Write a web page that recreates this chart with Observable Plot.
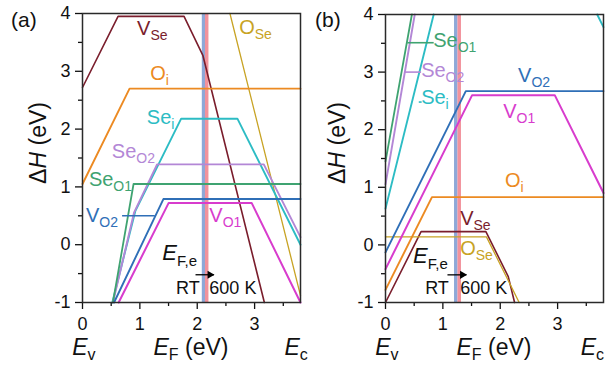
<!DOCTYPE html>
<html><head><meta charset="utf-8">
<script src="https://cdn.jsdelivr.net/npm/d3@7"></script>
<script src="https://cdn.jsdelivr.net/npm/@observablehq/plot@0.6"></script>
<style>
body{margin:0;background:#fff;}
#wrap{display:flex;width:608px;height:367px;overflow:visible;}
#wrap svg{overflow:visible;}
</style></head><body><div id="wrap"></div>
<script>
// ---------- data ----------
const EF_DOMAIN = [0, 3.8];
const DH_DOMAIN = [-1, 4];
const xTicks = [0, 1, 2, 3];
const xMinor = [0.5, 1.5, 2.5, 3.5];
const yTicks = [-1, 0, 1, 2, 3, 4];
const yMinor = [-0.5, 0.5, 1.5, 2.5, 3.5];

const defects = ["V_Se", "O_Se", "O_i", "Se_i", "Se_O2", "Se_O1", "V_O2", "V_O1"];

// panel (a): line segments, vertices [E_F (eV), ΔH (eV)]
const a_V_Se  = [[[0, 2.72], [0.62, 3.95], [1.77, 3.95], [2.10, 3.27], [3.17, -1]]];
const a_O_Se  = [[[2.57, 4], [3.8, -0.88]]];
const a_O_i   = [[[0, 1.05], [0.82, 2.70], [3.8, 2.70]]];
const a_Se_i  = [[[0.52, -1], [0.92, 0.58], [1.72, 2.18], [2.70, 2.18], [3.8, 0.0]]];
const a_Se_O2 = [[[0.53, -1], [0.90, 0.56], [1.30, 1.39], [3.16, 1.39], [3.8, 0.13]]];
const a_Se_O1 = [[[0.53, -1], [0.89, 1.05], [3.8, 1.05]]];
const a_V_O2  = [[[0.55, -1], [1.41, 0.79], [3.8, 0.79]]];
const a_V_O1  = [[[0.63, -1], [1.50, 0.72], [2.95, 0.72], [3.8, -1]]];

// panel (b)
const b_V_Se  = [[[0, -1], [0.62, 0.23], [1.75, 0.23], [2.14, -0.55], [2.25, -1]]];
const b_O_Se  = [[[0, 0.14], [1.76, 0.14], [2.33, -1]]];
const b_O_i   = [[[0, -0.78], [0.81, 0.83], [3.8, 0.83]]];
const b_Se_i  = [[[0, 0.63], [0.84, 4]], [[3.69, 4], [3.8, 3.78]]];
const b_Se_O2 = [[[0, 1.05], [0.51, 4]]];
const b_Se_O1 = [[[0, 1.45], [0.46, 4]]];
const b_V_O2  = [[[0, -0.13], [1.40, 2.67], [3.8, 2.67]]];
const b_V_O1  = [[[0, -0.42], [1.51, 2.60], [2.95, 2.60], [3.8, 0.90]]];

// curve labels (anchor in data units)
const a_labelDefect = ["V_Se", "O_Se", "O_i", "Se_i", "Se_O2", "Se_O1", "V_O2", "V_O1"];
const a_labelX = [0.96, 2.74, 1.19, 1.13, 0.52, 0.12, 0.07, 2.22];
const a_labelY = [3.62, 3.64, 2.84, 2.08, 1.49, 1.0, 0.38, 0.38];
const b_labelDefect = ["Se_O1", "Se_O2", "Se_i", "V_O2", "V_O1", "O_i", "V_Se", "O_Se"];
const b_labelX = [0.84, 0.63, 0.63, 2.32, 2.06, 2.09, 1.31, 1.31];
const b_labelY = [3.43, 2.91, 2.44, 2.82, 2.20, 1.0, 0.34, -0.18];

// leader lines [defect, x1, x2, y]
const a_leaders = [["V_O2", 0.69, 1.26, 0.5]];
const b_leaders = [["Se_O1", 0.38, 0.84, 3.51], ["Se_O2", 0.34, 0.62, 3.0], ["Se_i", 0.58, 0.63, 2.48]];

// equilibrium Fermi level at RT and 600 K
const a_EFe = [2.11, 2.165];
const b_EFe = [1.225, 1.285];
const a_arrow = [1.97, 2.29, -0.52];
const b_arrow = [1.08, 1.41, -0.52];
const a_noteX = [1.40, 1.64, 2.22];
const a_noteY = [-0.27, -0.86, -0.86];
const b_noteX = [0.49, 0.70, 1.31];
const b_noteY = [-0.32, -0.86, -0.86];

// ---------- styles ----------
const colors = {V_Se: "#7a1d2c", O_Se: "#c8a324", O_i: "#ec8a22", Se_i: "#2cbcc4",
  Se_O2: "#b387d6", Se_O1: "#3fa371", V_O2: "#2f6fb7", V_O1: "#d83ccd"};
const widths = {V_Se: 1.6, O_Se: 1.3, O_i: 1.9, Se_i: 1.9, Se_O2: 1.9, Se_O1: 1.8, V_O2: 1.9, V_O1: 2};
const bandColors = ["#8ea8d8", "#f2929c"];
const FONT = "'Liberation Sans', Arial, sans-serif";

const panels = [
  {tag: "(a)", ml: 82, mr: 4, mt: 13,
   curves: {V_Se: a_V_Se, O_Se: a_O_Se, O_i: a_O_i, Se_i: a_Se_i, Se_O2: a_Se_O2, Se_O1: a_Se_O1, V_O2: a_V_O2, V_O1: a_V_O1},
   lab: [a_labelDefect, a_labelX, a_labelY], leaders: a_leaders, efe: a_EFe, arrow: a_arrow,
   note: [a_noteX, a_noteY], ytitleX: 46, ytitleY: 143, ecX: 3.53},
  {tag: "(b)", ml: 81, mr: 5, mt: 14,
   curves: {V_Se: b_V_Se, O_Se: b_O_Se, O_i: b_O_i, Se_i: b_Se_i, Se_O2: b_Se_O2, Se_O1: b_Se_O1, V_O2: b_V_O2, V_O1: b_V_O1},
   lab: [b_labelDefect, b_labelX, b_labelY], leaders: b_leaders, efe: b_EFe, arrow: b_arrow,
   note: [b_noteX, b_noteY], ytitleX: 41, ytitleY: 143, ecX: 3.41}
];

function rows(segs) {
  const out = [];
  segs.forEach((s, i) => s.forEach(([x, y]) => out.push({x, y, seg: i})));
  return out;
}

function rich(g, x, y, parts, o) {
  const t = g.append("text").attr("x", x).attr("y", y)
    .attr("fill", o.color || "#111").attr("font-size", o.size)
    .attr("text-anchor", o.anchor || "start").attr("font-family", FONT);
  if (o.rotate) t.attr("transform", `rotate(-90 ${x} ${y})`);
  let shift = 0;
  for (const p of parts) {
    const ts = t.append("tspan").text(p.t);
    if (p.it) ts.attr("font-style", "italic");
    if (p.sub) {
      ts.attr("font-size", o.subSize);
      if (!shift) { ts.attr("dy", o.subDy); shift = o.subDy; }
    } else if (shift) { ts.attr("dy", -shift); shift = 0; }
  }
  return t;
}

const wrap = document.getElementById("wrap");
for (const p of panels) {
  const lineMarks = defects.filter(d => p.curves[d]).map(d =>
    Plot.line(rows(p.curves[d]), {x: "x", y: "y", z: "seg", stroke: colors[d], strokeWidth: widths[d]}));
  const leaderMarks = p.leaders.map(([d, x1, x2, y]) =>
    Plot.link([{x1, x2, y}], {x1: "x1", x2: "x2", y1: "y", y2: "y", stroke: colors[d], strokeWidth: 1.6}));
  const [ax1, ax2, ay] = p.arrow;
  const plot = Plot.plot({
    width: 304, height: 367,
    marginLeft: p.ml, marginRight: p.mr, marginTop: p.mt, marginBottom: 65,
    x: {domain: EF_DOMAIN},
    y: {domain: DH_DOMAIN},
    style: {fontFamily: FONT, fontSize: "18px", color: "#111", background: "transparent", overflow: "visible"},
    marks: [
      Plot.ruleX([p.efe[0]], {stroke: bandColors[0], strokeWidth: 3.5}),
      Plot.ruleX([p.efe[1]], {stroke: bandColors[1], strokeWidth: 3.5}),
      ...lineMarks,
      ...leaderMarks,
      Plot.link([{ax1, ax2, ay}], {x1: "ax1", x2: "ax2", y1: "ay", y2: "ay", stroke: "#000", strokeWidth: 1.3}),
      Plot.dot([{ax2, ay}], {x: "ax2", y: "ay", symbol: "triangle", rotate: 90, r: 3, fill: "#000", stroke: "none", dx: -4}),
      Plot.axisX({ticks: xTicks, tickSize: 7, tickPadding: 8, fontSize: 18, label: null, tickFormat: d => String(d), strokeWidth: 1.3}),
      Plot.axisX({ticks: xMinor, tickSize: 4, label: null, tickFormat: () => "", strokeWidth: 1.3}),
      Plot.axisY({ticks: yTicks, tickSize: 7, tickPadding: 5, fontSize: 18, label: null, tickFormat: d => String(d), strokeWidth: 1.3}),
      Plot.axisY({ticks: yMinor, tickSize: 4, label: null, tickFormat: () => "", strokeWidth: 1.3}),
      Plot.frame({stroke: "#2a2a2a", strokeWidth: 1.5})
    ]
  });
  const sx = plot.scale("x"), sy = plot.scale("y");
  const g = d3.select(plot).append("g");
  // curve labels
  const [names, lx, ly] = p.lab;
  names.forEach((d, i) => {
    const [main, sub] = d.split("_");
    rich(g, sx.apply(lx[i]), sy.apply(ly[i]), [{t: main}, {t: sub, sub: true}],
      {color: colors[d], size: 20, subSize: 14, subDy: 5});
  });
  // E_F,e / RT / 600 K
  const [nx, ny] = p.note;
  rich(g, sx.apply(nx[0]), sy.apply(ny[0]), [{t: "E", it: true}, {t: "F,e", sub: true}],
    {size: 22, subSize: 15, subDy: 6});
  rich(g, sx.apply(nx[1]), sy.apply(ny[1]), [{t: "RT"}], {size: 18});
  rich(g, sx.apply(nx[2]), sy.apply(ny[2]), [{t: "600 K"}], {size: 18});
  // panel tag
  rich(g, 11, 27, [{t: p.tag}], {size: 21});
  // axis titles
  rich(g, p.ytitleX, p.ytitleY, [{t: "Δ"}, {t: "H", it: true}, {t: " (eV)"}], {size: 23, anchor: "middle", rotate: true});
  rich(g, sx.apply(1.9), 355, [{t: "E", it: true}, {t: "F", sub: true}, {t: " (eV)"}], {size: 23, subSize: 16, subDy: 5, anchor: "middle"});
  rich(g, sx.apply(-0.17), 355, [{t: "E", it: true}, {t: "v", sub: true}], {size: 23, subSize: 16, subDy: 5});
  rich(g, sx.apply(p.ecX), 355, [{t: "E", it: true}, {t: "c", sub: true}], {size: 23, subSize: 16, subDy: 5});
  wrap.appendChild(plot);
}
</script></body></html>
